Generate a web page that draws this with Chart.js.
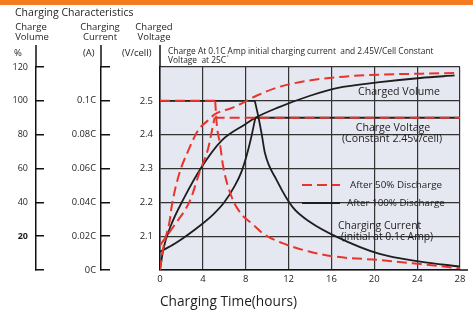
<!DOCTYPE html>
<html>
<head>
<meta charset="utf-8">
<script src="https://cdn.jsdelivr.net/npm/chart.js@4.4.1/dist/chart.umd.min.js"></script>
<style>
html, body { margin: 0; padding: 0; background: #fff; }
#wrap { position: relative; width: 473px; height: 313px; }
</style>
</head>
<body>
<div id="wrap"><canvas id="chart" width="473" height="313"></canvas></div>
<script>
// tick labels for the three left axes and the time axis
const volumeLabels = ['', '20', '40', '60', '80', '100', '120'];
const currentLabels = ['0C', '0.02C', '0.04C', '0.06C', '0.08C', '0.1C', ''];
const voltageLabels = ['', '2.1', '2.2', '2.3', '2.4', '2.5', ''];
const hourTicks = [0, 4, 8, 12, 16, 20, 24, 28];

// after 100% discharge (black solid)
const fullVolumeHours = [0, 0.3, 1, 2.2, 3.9, 5.75, 8, 8.9, 11, 14, 16.5, 20.5, 24.3, 27.5];
const fullVolume = [0, 12, 26, 42, 61, 76.5, 86.3, 90, 96, 103, 107.5, 111, 113.5, 115];
const fullVoltageHours = [0, 1.4, 3.9, 5, 6, 7, 7.6, 8.1, 8.5, 8.9];
const fullVoltage = [2.054, 2.078, 2.135, 2.165, 2.2, 2.25, 2.29, 2.34, 2.39, 2.45];
const fullHoldHours = [8.9, 28];
const fullHoldVoltage = [2.45, 2.45];
const fullConstHours = [0, 8.85];
const fullConstCurrent = [0.1, 0.1];
const fullCurrentHours = [8.85, 9.2, 9.5, 9.8, 10.9, 12.4, 14, 16.5, 20.5, 24.3, 28];
const fullCurrent = [0.1, 0.09, 0.08, 0.069, 0.053, 0.037, 0.0284, 0.0196, 0.0095, 0.005, 0.002];

// after 50% discharge (red dashed)
const halfVolumeHours = [0, 0.3, 0.9, 1.1, 1.8, 2.6, 3.6, 4.5, 5.1, 6.8, 9, 11, 13, 16.5, 20.5, 24, 27.8];
const halfVolume = [0, 13, 29, 38, 57, 70, 83, 88.5, 92, 96, 103, 108, 111, 114, 115.5, 116, 116.5];
const halfVoltageHours = [0, 1.4, 2.8, 3.7, 4.5, 4.9, 5.1];
const halfVoltage = [2.073, 2.135, 2.205, 2.29, 2.36, 2.42, 2.45];
const halfHoldHours = [5.1, 28];
const halfHoldVoltage = [2.45, 2.45];
const halfConstHours = [0, 5.15];
const halfConstCurrent = [0.1, 0.1];
const halfCurrentHours = [5.15, 5.3, 5.6, 5.9, 6.7, 7.6, 8.6, 9.6, 11.5, 14, 16.5, 20.5, 24.3, 28];
const halfCurrent = [0.1, 0.086, 0.0745, 0.061, 0.043, 0.033, 0.0274, 0.0216, 0.0157, 0.0108, 0.0078, 0.0059, 0.0035, 0.001];

const RED = '#e8352c';
const INK = '#1e1e1e';
const FONT = '"Open Sans", sans-serif';

Chart.defaults.font.family = FONT;
Chart.defaults.color = INK;

function toPoints(hours, values) {
    return hours.map((h, i) => ({ x: h, y: values[i] }));
}

function curve(hours, values, axis, dashed) {
    return {
        data: toPoints(hours, values),
        yAxisID: axis,
        borderColor: dashed ? RED : INK,
        borderWidth: dashed ? 2 : 1.8,
        borderDash: dashed ? [10, 5] : [],
        pointRadius: 0,
        fill: false,
        cubicInterpolationMode: 'monotone'
    };
}

const decorations = {
    id: 'decorations',
    beforeDraw(chart) {
        const { ctx, scales } = chart;
        const left = scales.x.getPixelForValue(0);
        const right = scales.x.getPixelForValue(28);
        const top = scales.yV.getPixelForValue(2.6);
        const bottom = scales.yV.getPixelForValue(2.0);
        ctx.save();
        ctx.fillStyle = '#e5e7f1';
        ctx.fillRect(left, top, right - left, bottom - top);
        ctx.restore();
    },
    afterDraw(chart) {
        const { ctx, chartArea, scales } = chart;
        ctx.save();

        // orange strip on top
        ctx.fillStyle = '#f47b20';
        ctx.fillRect(0, 0, chart.width, 5);

        // axis lines run up past the plot
        ctx.strokeStyle = '#111';
        ctx.lineWidth = 1.5;
        ['yPct', 'yCur', 'yV'].forEach((id) => {
            const s = scales[id];
            ctx.beginPath();
            ctx.moveTo(s.right, chartArea.top);
            ctx.lineTo(s.right, chartArea.top - 22);
            ctx.stroke();
        });
        ctx.beginPath();
        ctx.moveTo(chartArea.right, chartArea.bottom);
        ctx.lineTo(chartArea.right + 8, chartArea.bottom);
        ctx.stroke();

        // headers
        ctx.fillStyle = INK;
        ctx.textBaseline = 'middle';
        ctx.textAlign = 'left';
        ctx.font = `10.5px ${FONT}`;
        ctx.fillText('Charging Characteristics', 15, 13);
        ctx.font = `9.5px ${FONT}`;
        ctx.textAlign = 'center';
        ctx.fillText('Charge', 31, 27);
        ctx.fillText('Volume', 32, 37);
        ctx.fillText('Charging', 100, 27);
        ctx.fillText('Current', 100, 37);
        ctx.fillText('Charged', 154, 27);
        ctx.fillText('Voltage', 154, 37);
        ctx.textAlign = 'left';
        ctx.fillText('%', 14, 53);
        ctx.fillText('(A)', 83, 53);
        ctx.fillText('(V/cell)', 122, 53);

        ctx.font = `8.4px ${FONT}`;
        ctx.fillText('Charge At 0.1C Amp initial charging current  and 2.45V/Cell Constant', 168, 52);
        const tail = 'Voltage  at 25C';
        ctx.fillText(tail, 168, 61);
        const degX = 168 + ctx.measureText(tail).width + 0.5;
        ctx.font = `5px ${FONT}`;
        ctx.fillText('°', degX, 58);

        // labels inside the plot
        ctx.font = `10.6px ${FONT}`;
        ctx.textAlign = 'center';
        ctx.fillText('Charged Volume', 399, 92);
        ctx.fillText('Charge Voltage', 393, 128);
        ctx.fillText('(Constant 2.45v/cell)', 392, 139);
        ctx.font = `10.4px ${FONT}`;
        ctx.textAlign = 'left';
        ctx.fillText('Charging Current', 338, 226);
        ctx.fillText('(initial at 0.1c Amp)', 341, 237);

        // legend
        ctx.font = `9.8px ${FONT}`;
        ctx.fillText('After 50% Discharge', 350, 185);
        ctx.fillText('After 100% Discharge', 347, 203);
        ctx.lineWidth = 2;
        ctx.strokeStyle = RED;
        ctx.setLineDash([10, 5]);
        ctx.beginPath();
        ctx.moveTo(302, 185);
        ctx.lineTo(340, 185);
        ctx.stroke();
        ctx.setLineDash([]);
        ctx.strokeStyle = INK;
        ctx.lineWidth = 1.8;
        ctx.beginPath();
        ctx.moveTo(302, 203);
        ctx.lineTo(340, 203);
        ctx.stroke();

        ctx.restore();
    }
};

new Chart(document.getElementById('chart'), {
    type: 'line',
    data: {
        datasets: [
            curve(halfVolumeHours, halfVolume, 'yPct', true),
            curve(halfVoltageHours, halfVoltage, 'yV', true),
            curve(halfHoldHours, halfHoldVoltage, 'yV', true),
            curve(halfConstHours, halfConstCurrent, 'yCur', true),
            curve(halfCurrentHours, halfCurrent, 'yCur', true),
            curve(fullVolumeHours, fullVolume, 'yPct', false),
            curve(fullVoltageHours, fullVoltage, 'yV', false),
            curve(fullHoldHours, fullHoldVoltage, 'yV', false),
            curve(fullConstHours, fullConstCurrent, 'yCur', false),
            curve(fullCurrentHours, fullCurrent, 'yCur', false)
        ]
    },
    options: {
        responsive: false,
        animation: false,
        layout: { padding: { top: 67, right: 13, left: 0, bottom: 0 } },
        plugins: {
            legend: { display: false },
            tooltip: { enabled: false }
        },
        scales: {
            x: {
                type: 'linear',
                min: 0,
                max: 28,
                afterBuildTicks: (s) => { s.ticks = hourTicks.map((v) => ({ value: v })); },
                afterFit: (s) => { s.height = 43; },
                ticks: { font: { size: 9.5 }, padding: 4, color: INK },
                grid: { color: '#333', lineWidth: 1.2, drawTicks: false },
                border: { color: '#111', width: 1.5 },
                title: {
                    display: true,
                    text: 'Charging Time(hours)',
                    align: 'start',
                    font: { size: 13.7 },
                    color: INK,
                    padding: { top: 6, bottom: 3 }
                }
            },
            yV: {
                position: 'left',
                weight: 1,
                min: 2.0,
                max: 2.6,
                ticks: { stepSize: 0.1, padding: 7, font: { size: 9.5 }, callback: (v, i) => voltageLabels[i] },
                afterFit: (s) => { s.width = 59; },
                grid: { color: '#333', lineWidth: 1.2, drawTicks: false },
                border: { color: '#111', width: 1.5 }
            },
            yCur: {
                position: 'left',
                weight: 2,
                min: 0,
                max: 0.12,
                ticks: { stepSize: 0.02, padding: 14, font: { size: 9.3 }, callback: (v, i) => currentLabels[i] },
                afterFit: (s) => { s.width = 65; },
                grid: { drawOnChartArea: false, tickLength: -9, color: '#111', lineWidth: 1.5 },
                border: { color: '#111', width: 1.5 }
            },
            yPct: {
                position: 'left',
                weight: 3,
                min: 0,
                max: 120,
                ticks: {
                    stepSize: 20,
                    padding: 16,
                    font: (c) => ({ size: 9, weight: c.tick && c.tick.value === 20 ? 'bold' : 'normal' }),
                    callback: (v, i) => volumeLabels[i]
                },
                afterFit: (s) => { s.width = 36; },
                grid: { drawOnChartArea: false, tickLength: -8, color: '#111', lineWidth: 1.5 },
                border: { color: '#111', width: 1.5 }
            }
        }
    },
    plugins: [decorations]
});
</script>
</body>
</html>
